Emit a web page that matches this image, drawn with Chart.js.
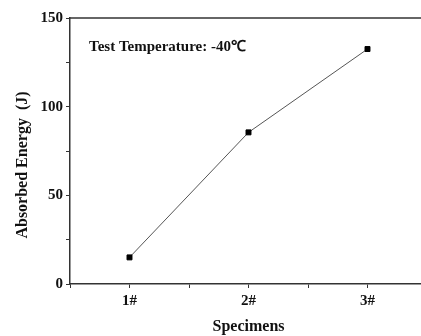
<!DOCTYPE html>
<html>
<head>
<meta charset="utf-8">
<script src="https://cdn.jsdelivr.net/npm/chart.js@4"></script>
<style>
  html, body { margin: 0; padding: 0; background: #fff; overflow: hidden; }
  #wrap { width: 432px; height: 336px; }
</style>
</head>
<body>
<div id="wrap"><canvas id="lineChart"></canvas></div>
<script>
// Impact test: absorbed energy per specimen
const specimens = ['1#', '2#', '3#'];
const specimenPos = [1, 2, 3];
const absorbedEnergy = [15, 85.5, 132.5];
const noteText = 'Test Temperature: -40\u2103';

const serif = '"Liberation Serif", "Times New Roman", serif';

// top frame line + annotation
const extras = {
  id: 'extras',
  afterDraw(chart) {
    const { ctx, chartArea, scales } = chart;
    ctx.save();
    ctx.strokeStyle = '#333';
    ctx.lineWidth = 1.5;
    ctx.beginPath();
    ctx.moveTo(chartArea.left, chartArea.top);
    ctx.lineTo(chartArea.right + 5, chartArea.top);
    ctx.stroke();
    ctx.fillStyle = '#111';
    ctx.font = 'bold 15px ' + serif;
    ctx.textBaseline = 'middle';
    ctx.fillText(noteText, scales.x.getPixelForValue(0.66), scales.y.getPixelForValue(133.7));
    ctx.restore();
  }
};

new Chart(document.getElementById('lineChart'), {
  type: 'line',
  data: {
    datasets: [{
      data: specimenPos.map((x, i) => ({ x: x, y: absorbedEnergy[i] })),
      borderColor: '#555',
      borderWidth: 1,
      pointStyle: 'rect',
      pointRadius: 3.5,
      pointBackgroundColor: '#000',
      pointBorderColor: '#000',
      tension: 0
    }]
  },
  options: {
    responsive: true,
    maintainAspectRatio: false,
    animation: false,
    layout: { padding: { top: 18, left: 0, right: 2, bottom: 0 } },
    plugins: { legend: { display: false }, tooltip: { enabled: false } },
    scales: {
      x: {
        type: 'linear',
        min: 0.5,
        max: 3.5,
        afterFit: s => { s.height = 52; },
        border: { color: '#333', width: 1.5 },
        grid: { drawOnChartArea: false, tickLength: 4, color: '#333' },
        ticks: {
          stepSize: 0.5,
          autoSkip: false,
          color: '#111',
          padding: 4,
          font: { family: serif, size: 15, weight: 'bold' },
          callback: v => Number.isInteger(v) ? specimens[v - 1] : ''
        },
        title: {
          display: true,
          text: 'Specimens',
          color: '#111',
          padding: { top: 4, bottom: 0 },
          font: { family: serif, size: 16, weight: 'bold' }
        }
      },
      y: {
        min: 0,
        max: 150,
        afterFit: s => { s.width = 70; },
        border: { color: '#333', width: 1.5 },
        grid: { drawOnChartArea: false, tickLength: 4, color: '#333' },
        ticks: {
          stepSize: 25,
          color: '#111',
          padding: 3,
          font: { family: serif, size: 15, weight: 'bold' },
          callback: v => v % 50 === 0 ? v : ''
        },
        title: {
          display: true,
          // trailing spaces nudge the centred title downward like the original
          text: 'Absorbed Energy  (J)       ',
          color: '#111',
          padding: { top: 13, bottom: 4 },
          font: { family: serif, size: 16, weight: 'bold' }
        }
      }
    }
  },
  plugins: [extras]
});
</script>
</body>
</html>
